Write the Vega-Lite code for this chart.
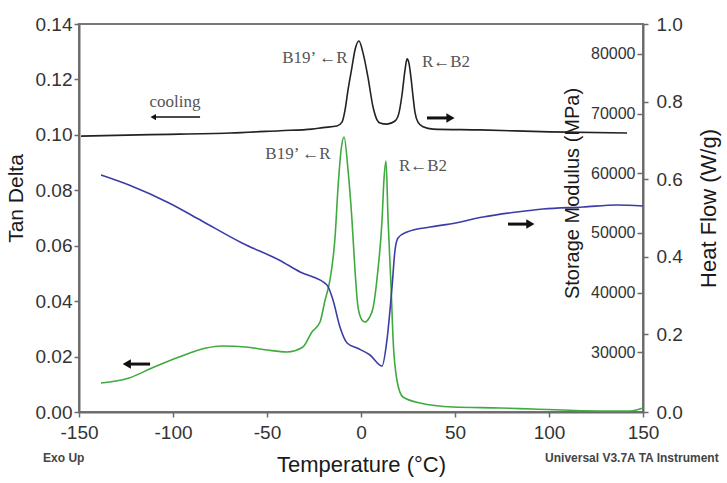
{
  "$schema": "https://vega.github.io/schema/vega-lite/v6.json",
  "width": 564,
  "height": 388,
  "autosize": {"type": "none"},
  "padding": {"left": 79, "top": 24, "right": 84, "bottom": 71},
  "background": "white",
  "config": {
    "view": {"stroke": "#777777", "strokeWidth": 2},
    "axis": {
      "grid": false,
      "domainColor": "#6b6b6b",
      "domainWidth": 2,
      "tickColor": "#6b6b6b",
      "tickWidth": 1.5,
      "tickSize": 5,
      "labelColor": "#333333",
      "labelFont": "Liberation Sans",
      "labelFontSize": 19,
      "labelOverlap": false,
      "titleFont": "Liberation Sans",
      "titleFontWeight": "normal",
      "titleColor": "#1a1a1a",
      "titleFontSize": 22
    }
  },
  "datasets": {
    "tanDelta": [
      {"T": -138.3, "tan": 0.01046}, {"T": -123.4, "tan": 0.01227}, {"T": -111.2, "tan": 0.01588},
      {"T": -96.8, "tan": 0.01985}, {"T": -82.4, "tan": 0.02309}, {"T": -73.9, "tan": 0.02381},
      {"T": -61.2, "tan": 0.02345}, {"T": -50.0, "tan": 0.02237}, {"T": -39.4, "tan": 0.02165},
      {"T": -30.9, "tan": 0.02345}, {"T": -26.1, "tan": 0.02887}, {"T": -21.8, "tan": 0.03247},
      {"T": -19.1, "tan": 0.04041}, {"T": -16.5, "tan": 0.04763}, {"T": -13.8, "tan": 0.06314},
      {"T": -12.2, "tan": 0.08118}, {"T": -10.6, "tan": 0.09453}, {"T": -9.0, "tan": 0.09923},
      {"T": -6.9, "tan": 0.08732}, {"T": -4.8, "tan": 0.06928}, {"T": -3.2, "tan": 0.05124},
      {"T": -1.6, "tan": 0.03789}, {"T": 0.5, "tan": 0.0332}, {"T": 2.1, "tan": 0.03247},
      {"T": 4.3, "tan": 0.03392}, {"T": 6.4, "tan": 0.03753}, {"T": 9.0, "tan": 0.05124},
      {"T": 11.2, "tan": 0.06928}, {"T": 12.2, "tan": 0.08371}, {"T": 13.3, "tan": 0.09057},
      {"T": 14.4, "tan": 0.06928}, {"T": 16.0, "tan": 0.0451}, {"T": 17.0, "tan": 0.02706},
      {"T": 19.1, "tan": 0.01155}, {"T": 22.3, "tan": 0.00541}, {"T": 31.4, "tan": 0.00325},
      {"T": 48.9, "tan": 0.0018}, {"T": 73.9, "tan": 0.00144}, {"T": 91.5, "tan": 0.00108},
      {"T": 127.1, "tan": 0.00036}, {"T": 143.1, "tan": 0.00036}, {"T": 150.0, "tan": 0.00144}
    ],
    "storage": [
      {"T": -138.3, "E": 59706}, {"T": -123.4, "E": 58030}, {"T": -102.1, "E": 55014},
      {"T": -84.6, "E": 51998}, {"T": -63.3, "E": 48313}, {"T": -43.6, "E": 45465},
      {"T": -32.4, "E": 43454}, {"T": -18.1, "E": 41276}, {"T": -14.9, "E": 38763},
      {"T": -11.2, "E": 34240}, {"T": -7.4, "E": 31560}, {"T": -2.1, "E": 30722},
      {"T": 4.8, "E": 29549}, {"T": 11.2, "E": 27706}, {"T": 13.8, "E": 32062},
      {"T": 16.5, "E": 40941}, {"T": 18.1, "E": 47140}, {"T": 19.7, "E": 49150},
      {"T": 24.5, "E": 50155}, {"T": 36.7, "E": 50993}, {"T": 47.3, "E": 51496},
      {"T": 64.9, "E": 52668}, {"T": 83.0, "E": 53506}, {"T": 96.8, "E": 54009},
      {"T": 118.1, "E": 54344}, {"T": 136.2, "E": 54679}, {"T": 150.0, "E": 54511}
    ],
    "heatFlow": [
      {"T": -148.9, "hf": 0.711}, {"T": -112.2, "hf": 0.715}, {"T": -69.7, "hf": 0.719},
      {"T": -43.1, "hf": 0.725}, {"T": -26.1, "hf": 0.729}, {"T": -20.2, "hf": 0.733},
      {"T": -12.8, "hf": 0.737}, {"T": -10.1, "hf": 0.747}, {"T": -8.5, "hf": 0.778},
      {"T": -6.9, "hf": 0.83}, {"T": -4.8, "hf": 0.889}, {"T": -3.2, "hf": 0.933},
      {"T": -1.1, "hf": 0.956}, {"T": 1.1, "hf": 0.925}, {"T": 3.7, "hf": 0.863},
      {"T": 6.4, "hf": 0.786}, {"T": 8.5, "hf": 0.753}, {"T": 10.1, "hf": 0.745},
      {"T": 13.8, "hf": 0.742}, {"T": 18.1, "hf": 0.75}, {"T": 20.2, "hf": 0.771},
      {"T": 21.8, "hf": 0.817}, {"T": 23.4, "hf": 0.881}, {"T": 24.5, "hf": 0.91},
      {"T": 25.5, "hf": 0.899}, {"T": 26.6, "hf": 0.861}, {"T": 27.7, "hf": 0.812},
      {"T": 28.7, "hf": 0.773}, {"T": 30.3, "hf": 0.747}, {"T": 33.0, "hf": 0.735},
      {"T": 38.3, "hf": 0.729}, {"T": 63.3, "hf": 0.727}, {"T": 100.5, "hf": 0.722},
      {"T": 141.5, "hf": 0.719}
    ],
    "notes": [
      {"T": -98.9, "tan": 0.1119, "label": "cooling"},
      {"T": -24.5, "tan": 0.1277, "label": "B19’ ←R"},
      {"T": 45.2, "tan": 0.1263, "label": "R←B2"},
      {"T": -33.5, "tan": 0.0931, "label": "B19’ ←R"},
      {"T": 33.0, "tan": 0.0888, "label": "R←B2"}
    ],
    "footer": [
      {"T": -169.1, "tan": -0.0166, "label": "Exo Up"},
      {"T": 97.9, "tan": -0.0166, "label": "Universal V3.7A TA Instrument"}
    ],
    "arrows": [
      {"tail": -85.6, "tip": -110.5, "tan": 0.1064, "dir": "left", "weight": "thin"},
      {"tail": 35.1, "tip": 47.6, "tan": 0.1061, "dir": "right", "weight": "bold"},
      {"tail": 78.2, "tip": 90.1, "tan": 0.0678, "dir": "right", "weight": "bold"},
      {"tail": -112.2, "tip": -124.6, "tan": 0.0173, "dir": "left", "weight": "bold"}
    ]
  },
  "layer": [
    {
      "layer": [
        {
          "data": {"name": "tanDelta"},
          "mark": {"type": "line", "color": "#3faa3f", "strokeWidth": 1.6, "interpolate": "monotone"},
          "encoding": {
            "x": {
              "field": "T", "type": "quantitative",
              "title": "Temperature (°C)",
              "scale": {"domain": [-150, 150], "nice": false},
              "axis": {
                "values": [-150, -100, -50, 0, 50, 100, 150],
                "labelExpr": "'' + datum.value",
                "labelFlush": false,
                "labelPadding": 6,
                "titlePadding": 12
              }
            },
            "y": {
              "field": "tan", "type": "quantitative",
              "title": "Tan Delta",
              "scale": {"domain": [0, 0.14], "nice": false, "zero": false},
              "axis": {
                "orient": "left",
                "values": [0, 0.02, 0.04, 0.06, 0.08, 0.1, 0.12, 0.14],
                "format": ".2f",
                "labelPadding": 2,
                "titleFontSize": 21,
                "titlePadding": 9,
                "titleY": 174
              }
            }
          }
        },
        {
          "data": {"name": "notes"},
          "mark": {"type": "text", "font": "Liberation Serif", "fontSize": 17, "color": "#555555", "align": "center", "baseline": "middle"},
          "encoding": {
            "x": {"field": "T", "type": "quantitative", "title": "Temperature (°C)"},
            "y": {"field": "tan", "type": "quantitative", "title": "Tan Delta"},
            "text": {"field": "label"}
          }
        },
        {
          "data": {"name": "footer"},
          "mark": {"type": "text", "font": "Liberation Sans", "fontSize": 12, "fontWeight": "bold", "color": "#444444", "align": "left", "baseline": "middle"},
          "encoding": {
            "x": {"field": "T", "type": "quantitative", "title": "Temperature (°C)"},
            "y": {"field": "tan", "type": "quantitative", "title": "Tan Delta"},
            "text": {"field": "label"}
          }
        },
        {
          "data": {"name": "arrows"},
          "mark": {"type": "rule", "color": "#111111"},
          "encoding": {
            "x": {"field": "tail", "type": "quantitative", "title": "Temperature (°C)"},
            "x2": {"field": "tip"},
            "y": {"field": "tan", "type": "quantitative", "title": "Tan Delta"},
            "strokeWidth": {"field": "weight", "type": "nominal", "scale": {"domain": ["thin", "bold"], "range": [1.5, 3]}, "legend": null}
          }
        },
        {
          "data": {"name": "arrows"},
          "mark": {"type": "point", "filled": true, "color": "#111111", "opacity": 1},
          "encoding": {
            "x": {"field": "tip", "type": "quantitative", "title": "Temperature (°C)"},
            "y": {"field": "tan", "type": "quantitative", "title": "Tan Delta"},
            "shape": {"field": "dir", "type": "nominal", "scale": {"domain": ["left", "right"], "range": ["triangle-left", "triangle-right"]}, "legend": null},
            "size": {"field": "weight", "type": "nominal", "scale": {"domain": ["thin", "bold"], "range": [40, 90]}, "legend": null}
          }
        }
      ]
    },
    {
      "data": {"name": "storage"},
      "mark": {"type": "line", "color": "#3c3ca6", "strokeWidth": 1.6, "interpolate": "monotone"},
      "encoding": {
        "x": {"field": "T", "type": "quantitative", "title": "Temperature (°C)"},
        "y": {
          "field": "E", "type": "quantitative",
          "title": "Storage Modulus (MPa)",
          "scale": {"domain": [20000, 85000], "nice": false, "zero": false},
          "axis": {
            "orient": "left",
            "offset": -564,
            "domain": false,
            "values": [30000, 40000, 50000, 60000, 70000, 80000],
            "format": "d",
            "labelFontSize": 16,
            "tickSize": 6,
            "labelPadding": 2,
            "titleFontSize": 20,
            "titlePadding": 8,
            "titleY": 169
          }
        }
      }
    },
    {
      "data": {"name": "heatFlow"},
      "mark": {"type": "line", "color": "#222222", "strokeWidth": 1.6, "interpolate": "monotone"},
      "encoding": {
        "x": {"field": "T", "type": "quantitative", "title": "Temperature (°C)"},
        "y": {
          "field": "hf", "type": "quantitative",
          "title": "Heat Flow (W/g)",
          "scale": {"domain": [0, 1], "nice": false},
          "axis": {
            "orient": "right",
            "values": [0, 0.2, 0.4, 0.6, 0.8, 1.0],
            "format": ".1f",
            "labelPadding": 8,
            "titleAngle": 270,
            "titleBaseline": "top",
            "titleFontSize": 22,
            "titlePadding": 16,
            "titleY": 184
          }
        }
      }
    }
  ],
  "resolve": {"scale": {"y": "independent"}}
}
